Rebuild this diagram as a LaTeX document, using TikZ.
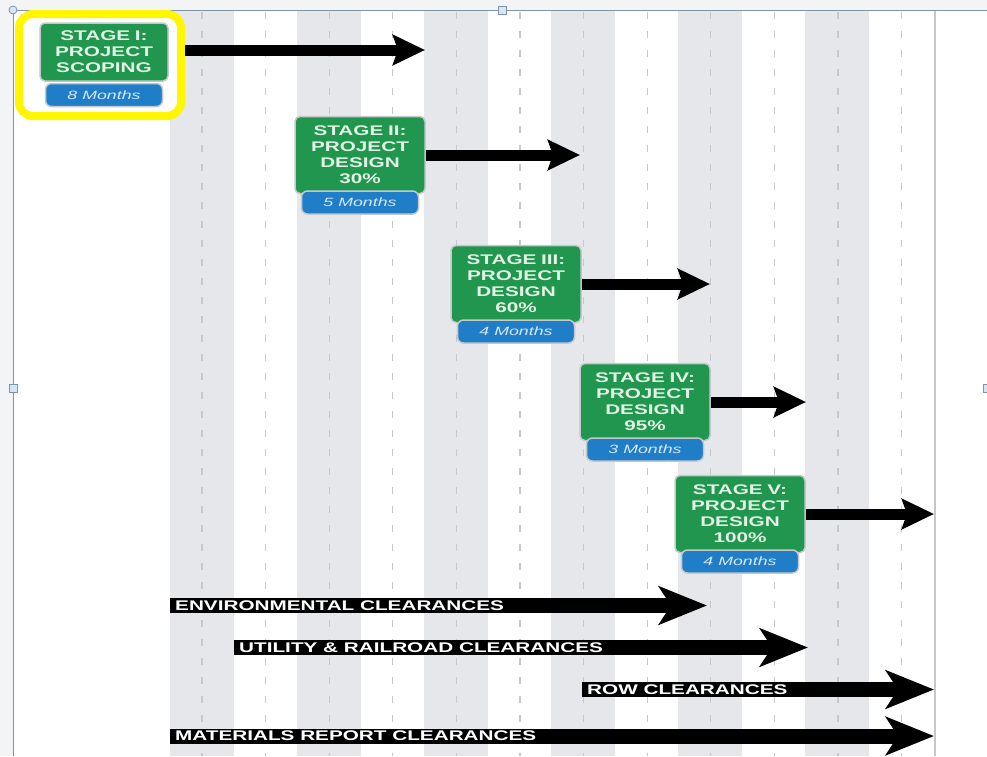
\documentclass[tikz,border=0pt]{standalone}
\usepackage{fontspec}
\setmainfont{Liberation Sans}
\newfontfamily\widesans[FakeStretch=1.48]{Liberation Sans}
\usepackage{tikz}
\usetikzlibrary{arrows.meta}
\usetikzlibrary{positioning}
\usetikzlibrary{backgrounds}
\definecolor{stagegreen}{RGB}{33,150,78}
\definecolor{stagetext}{RGB}{226,242,228}
\definecolor{monthblue}{RGB}{32,126,200}
\definecolor{monthtext}{RGB}{214,232,248}
\definecolor{boxedge}{RGB}{196,200,204}
\definecolor{stripegray}{RGB}{229,231,234}
\definecolor{dashgray}{RGB}{198,200,204}
\definecolor{hlyellow}{RGB}{255,246,0}
\definecolor{framegray}{RGB}{128,146,166}
\definecolor{handlefill}{RGB}{214,230,246}
\definecolor{outsidegray}{RGB}{243,244,246}

\begin{document}
\begin{tikzpicture}[x=1pt, y=-1pt,
      stage/.style={draw=boxedge, line width=1.5pt, fill=stagegreen,
        rounded corners=5pt, minimum width=130pt, minimum height=77pt,
        text width=126pt, align=center, inner sep=0pt, text=stagetext,
        font=\widesans\bfseries\fontsize{14}{16}\selectfont},
      months/.style={draw=boxedge, line width=1.5pt, fill=monthblue,
        rounded corners=6pt, minimum width=117pt, minimum height=23pt,
        inner sep=0pt, text=monthtext,
        font=\widesans\itshape\fontsize{12}{14}\selectfont},
      highlight/.style={draw=hlyellow, line width=8pt, fill=white,
        rounded corners=14pt, minimum width=162pt, minimum height=102pt},
      stagearrow/.style={line width=11pt,
        -{Stealth[length=32pt, width=30pt, inset=5pt]}},
      clearbar/.style={line width=15pt,
        -{Stealth[length=48pt, width=38pt, inset=12pt]}},
      bartext/.style={fill=black, text=white, anchor=west, inner xsep=5pt,
        inner ysep=0pt, minimum height=15pt,
        font=\widesans\bfseries\fontsize{14}{15}\selectfont},
      handle/.style={draw=framegray, fill=handlefill, line width=0.8pt,
        inner sep=0pt, minimum size=8pt},
      frameline/.style={draw=framegray, line width=1pt}]

    \useasboundingbox (0,0) rectangle (987,756);

    \begin{scope}[on background layer]
      \fill[outsidegray] (0,0) rectangle (987,10);
      \fill[outsidegray] (0,0) rectangle (13,756);
      \foreach \k in {0,...,5}
        \fill[stripegray] (170+127*\k,10) rectangle ++(63.5,746);
      \foreach \k in {0,...,11}
        \draw[dashgray, line width=1.3pt, dash pattern=on 7pt off 12pt]
          (202+63.6*\k,12) -- ++(0,744);
      \draw[boxedge, line width=2.5pt] (935,10) -- (935,756);
    \end{scope}

    \coordinate (frameBL) at (13,756);
    \coordinate (frameTR) at (987,10);
    \draw[frameline] (frameBL) |- (frameTR);

    \node[highlight]
      (hlStageI) at (100,65) {};
    \node[stage, minimum height=58pt, minimum width=128pt]
      (stageI) at (104,52) {STAGE I:\\PROJECT\\SCOPING};
    \node[months]
      (monI) [below=1pt of stageI] {8 Months};
    \node[stage]
      (stageII) at (360,155) {STAGE II:\\PROJECT\\DESIGN\\30\%};
    \node[months]
      (monII) [below=-4pt of stageII] {5 Months};
    \node[stage]
      (stageIII) at (516,284) {STAGE III:\\PROJECT\\DESIGN\\60\%};
    \node[months]
      (monIII) [below=-4pt of stageIII] {4 Months};
    \node[stage]
      (stageIV) at (645,402) {STAGE IV:\\PROJECT\\DESIGN\\95\%};
    \node[months]
      (monIV) [below=-4pt of stageIV] {3 Months};
    \node[stage]
      (stageV) at (740,514) {STAGE V:\\PROJECT\\DESIGN\\100\%};
    \node[months]
      (monV) [below=-4pt of stageV] {4 Months};

    \coordinate (tipI) at (425,50);
    \coordinate (tipII) at (580,155);
    \coordinate (tipIII) at (710,284);
    \coordinate (tipIV) at (806,402);
    \coordinate (tipV) at (934,514);

    \draw[stagearrow] (hlStageI.east |- tipI) -- (tipI);
    \draw[stagearrow] (stageII.east) -- (tipII);
    \draw[stagearrow] (stageIII.east) -- (tipIII);
    \draw[stagearrow] (stageIV.east) -- (tipIV);
    \draw[stagearrow] (stageV.east) -- (tipV);

    \node[bartext]
      (envClear) at (170,605.5) {ENVIRONMENTAL CLEARANCES};
    \node[bartext]
      (utilClear) at (234,647.5) {UTILITY \& RAILROAD CLEARANCES};
    \node[bartext]
      (rowClear) at (582,689.5) {ROW CLEARANCES};
    \node[bartext]
      (matClear) at (170,736) {MATERIALS REPORT CLEARANCES};

    \coordinate (envEnd) at (707,605.5);
    \coordinate (utilEnd) at (808,647.5);
    \coordinate (rowEnd) at (934,689.5);
    \coordinate (matEnd) at (934,736);

    \begin{scope}[on background layer]
      \draw[clearbar] (envClear.west) -- (envEnd);
      \draw[clearbar] (utilClear.west) -- (utilEnd);
      \draw[clearbar] (rowClear.west) -- (rowEnd);
      \draw[clearbar] (matClear.west) -- (matEnd);
    \end{scope}

    \node[handle, circle] (hTopLeft) at (frameBL |- frameTR) {};
    \node[handle] (hTopMid) at (502,10) {};
    \node[handle] (hMidLeft) at (13,388) {};
    \node[handle] (hMidRight) at (987,388) {};

  \end{tikzpicture}
\end{document}
